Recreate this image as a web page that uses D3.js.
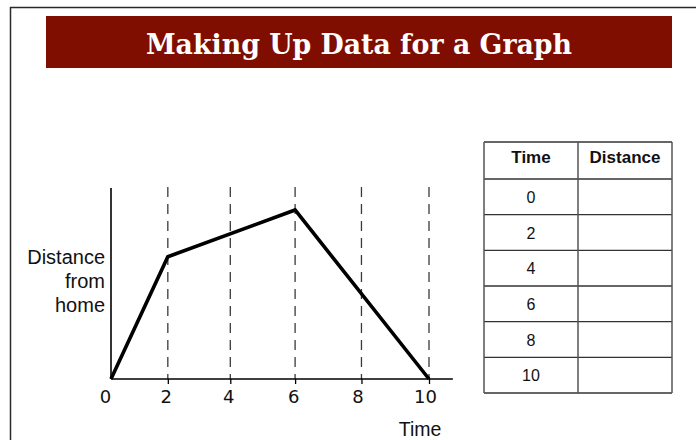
<!DOCTYPE html>
<html>
<head>
<meta charset="utf-8">
<script src="https://cdn.jsdelivr.net/npm/d3@7"></script>
<style>
  html, body { margin: 0; padding: 0; background: #fff; }
  svg { display: block; }
</style>
</head>
<body>
<div id="chart"></div>
<script>
// ---- data ----
const title = "Making Up Data for a Graph";
const tickTimes = [0, 2, 4, 6, 8, 10];          // x tick labels
const pathTimes = [0, 2, 6, 10];                // trip vertices (time)
const pathDistance = [0, 6.4, 8.85, 0];          // distance from home (arbitrary units)
const yLabelLines = ["Distance", "from", "home"];
const xLabel = "Time";
const tableHeaders = ["Time", "Distance"];
const tableTimes = ["0", "2", "4", "6", "8", "10"];
const tableDistances = ["", "", "", "", "", ""];

const W = 696, H = 440;
const svg = d3.select("#chart").append("svg").attr("width", W).attr("height", H);

// frame
svg.append("path").attr("d", "M10.5,440V7.5H696").attr("fill", "none")
  .attr("stroke", "#2a2a2a").attr("stroke-width", 1.5);

// title banner
svg.append("rect").attr("x", 46).attr("y", 16).attr("width", 626).attr("height", 52)
  .attr("fill", "#7f0e00");
svg.append("text").attr("x", 359).attr("y", 54).attr("text-anchor", "middle")
  .attr("font-family", "DejaVu Serif").attr("font-weight", "bold").attr("font-size", 28)
  .attr("fill", "#fff").attr("textLength", 426).attr("lengthAdjust", "spacingAndGlyphs")
  .text(title);

// scales
const x = d3.scalePow().exponent(1.07).domain([0, 10]).range([111, 429]);
const y = d3.scaleLinear().domain([0, 10]).range([379, 188]);
const axisEndTime = 10.7;

const g = svg.append("g");

// dashed guides
g.selectAll("line.guide").data(tickTimes.filter(d => d > 0)).join("line")
  .attr("class", "guide")
  .attr("x1", d => x(d)).attr("x2", d => x(d))
  .attr("y1", y(10) - 1).attr("y2", y(0))
  .attr("stroke", "#3a3a3a").attr("stroke-width", 1.3).attr("stroke-dasharray", "10,7");

// x axis
const xAxis = d3.axisBottom(x).tickValues(tickTimes).tickSize(5).tickSizeOuter(0).tickPadding(6)
  .tickFormat(d3.format("d"));
const ax = g.append("g").attr("transform", `translate(0,${y(0)})`).call(xAxis);
ax.select(".domain").remove();
ax.selectAll(".tick line").attr("stroke", "#000").attr("stroke-width", 1.3)
  .attr("opacity", d => d === 0 ? 0 : 1);
ax.selectAll(".tick text").attr("font-family", "DejaVu Sans").attr("font-size", 18)
  .attr("fill", "#111").attr("dx", d => d === 0 ? -6 : (d >= 8 ? -4 : -2));

g.append("line").attr("x1", x(0)).attr("x2", x(axisEndTime)).attr("y1", y(0)).attr("y2", y(0))
  .attr("stroke", "#000").attr("stroke-width", 1.6);
g.append("line").attr("x1", x(0)).attr("x2", x(0)).attr("y1", y(0)).attr("y2", y(10))
  .attr("stroke", "#000").attr("stroke-width", 1.6);

// trip line
const pts = pathTimes.map((t, i) => [t, pathDistance[i]]);
g.append("path").datum(pts)
  .attr("d", d3.line().x(d => x(d[0])).y(d => y(d[1])))
  .attr("fill", "none").attr("stroke", "#000").attr("stroke-width", 3.6)
  .attr("stroke-linejoin", "miter");

// axis labels
const yl = g.append("text").attr("text-anchor", "end").attr("font-family", "Liberation Sans")
  .attr("font-size", 20).attr("fill", "#111");
yLabelLines.forEach((t, i) => {
  yl.append("tspan").attr("x", 105).attr("y", 264 + i * 24).text(t);
});
g.append("text").attr("x", 420).attr("y", 436).attr("text-anchor", "middle")
  .attr("font-family", "Liberation Sans").attr("font-size", 19.5).attr("fill", "#111")
  .text(xLabel);

// table
const col = d3.scaleBand().domain(tableHeaders).range([484, 672]);
const row = d3.scaleLinear().domain([0, tableTimes.length]).range([179, 393]);
const headerTop = 142;
const tg = svg.append("g");
// horizontal lines
const hLines = [headerTop].concat(d3.range(tableTimes.length + 1).map(i => row(i)));
tg.selectAll("line.h").data(hLines).join("line").attr("class", "h")
  .attr("x1", 484).attr("x2", 672).attr("y1", d => d).attr("y2", d => d)
  .attr("stroke", "#333").attr("stroke-width", 1.3);
// vertical lines
const vLines = [col(tableHeaders[0]), col(tableHeaders[1]), col(tableHeaders[1]) + col.bandwidth()];
tg.selectAll("line.v").data(vLines).join("line").attr("class", "v")
  .attr("x1", d => d).attr("x2", d => d).attr("y1", headerTop).attr("y2", row(tableTimes.length))
  .attr("stroke", "#555").attr("stroke-width", 1.5);
// header text
tg.selectAll("text.hd").data(tableHeaders).join("text").attr("class", "hd")
  .attr("x", d => col(d) + col.bandwidth() / 2).attr("y", 163)
  .attr("text-anchor", "middle").attr("font-family", "Liberation Sans").attr("font-weight", "bold")
  .attr("font-size", 17).attr("fill", "#111").text(d => d);
// row text
tg.selectAll("text.rt").data(tableTimes).join("text").attr("class", "rt")
  .attr("x", col("Time") + col.bandwidth() / 2)
  .attr("y", (d, i) => (row(i) + row(i + 1)) / 2 + 6)
  .attr("text-anchor", "middle").attr("font-family", "Liberation Sans")
  .attr("font-size", 16).attr("fill", "#111").text(d => d);
tg.selectAll("text.rd").data(tableDistances).join("text").attr("class", "rd")
  .attr("x", col("Distance") + col.bandwidth() / 2)
  .attr("y", (d, i) => (row(i) + row(i + 1)) / 2 + 6)
  .attr("text-anchor", "middle").attr("font-family", "Liberation Sans")
  .attr("font-size", 16).attr("fill", "#111").text(d => d);
</script>
</body>
</html>
